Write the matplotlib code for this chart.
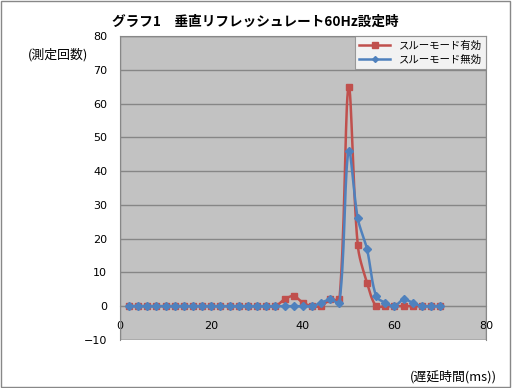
import numpy as np
import matplotlib.pyplot as plt
from matplotlib.patches import Rectangle

plt.rcParams['font.family'] = ['Noto Sans CJK JP', 'DejaVu Sans']

# delay (ms) and counts
delay = [2, 4, 6, 8, 10, 12, 14, 16, 18, 20, 22, 24, 26, 28, 30, 32, 34, 36,
         38, 40, 42, 44, 46, 48, 50, 52, 54, 56, 58, 60, 62, 64, 66, 68, 70]
thru_on = [0, 0, 0, 0, 0, 0, 0, 0, 0, 0, 0, 0, 0, 0, 0, 0, 0, 2,
           3, 1, 0, 0, 2, 2, 65, 18, 7, 0, 0, 0, 0, 0, 0, 0, 0]
thru_off = [0, 0, 0, 0, 0, 0, 0, 0, 0, 0, 0, 0, 0, 0, 0, 0, 0, 0,
            0, 0, 0, 1, 2, 1, 46, 26, 17, 3, 1, 0, 2, 1, 0, 0, 0]

title = 'グラフ1\u3000垂直リフレッシュレート60Hz設定時'
label_on = 'スルーモード有効'
label_off = 'スルーモード無効'


def smooth(x, y, sx=4.575, sy=3.38, n=16):
    # excel-like smoothed line, bezier control points scaled by segment length
    # (done in pixel space so the tall peaks do not overshoot)
    p = np.column_stack([np.asarray(x, float) * sx, np.asarray(y, float) * sy])
    m = len(p)
    out_c, in_c = [], []
    for i in range(m):
        a = p[max(i - 1, 0)]
        b = p[min(i + 1, m - 1)]
        d_in = np.hypot(*(p[i] - a))
        d_out = np.hypot(*(b - p[i]))
        tot = d_in + d_out
        tan = b - a
        in_c.append(p[i] - tan * (d_in / tot) / 3 if tot else p[i])
        out_c.append(p[i] + tan * (d_out / tot) / 3 if tot else p[i])
    t = np.linspace(0, 1, n)[:, None]
    pts = []
    for i in range(m - 1):
        seg = (1 - t) ** 3 * p[i] + 3 * (1 - t) ** 2 * t * out_c[i] \
            + 3 * (1 - t) * t ** 2 * in_c[i + 1] + t ** 3 * p[i + 1]
        pts.append(seg)
    pts = np.vstack(pts)
    return pts[:, 0] / sx, pts[:, 1] / sy


red = '#C0504D'
blue = '#4F81BD'

fig = plt.figure(figsize=(5.12, 3.88), dpi=100)
fig.patches.append(Rectangle((0.002, 0.003), 0.994, 0.994, transform=fig.transFigure,
                             fill=False, edgecolor='#888888', lw=1))
ax = fig.add_axes([0.234, 0.124, 0.715, 0.783])
ax.set_facecolor('#c2c2c2')

for v in range(-10, 81, 10):
    ax.axhline(v, color='#868686', lw=1, zorder=1)

sx, sy = smooth(delay, thru_on)
ax.plot(sx, sy, c=red, lw=1.8, zorder=3)
ax.plot(delay, thru_on, ls='none', marker='s', ms=5, c=red, zorder=3)
sx, sy = smooth(delay, thru_off)
ax.plot(sx, sy, c=blue, lw=1.8, zorder=4)
ax.plot(delay, thru_off, ls='none', marker='D', ms=4, c=blue, zorder=4)

# legend proxies
ax.plot([], [], c=red, lw=1.8, marker='s', ms=5, label=label_on)
ax.plot([], [], c=blue, lw=1.8, marker='D', ms=3, label=label_off)
leg = ax.legend(loc='upper right', fontsize=7.5, frameon=True, fancybox=False,
                borderaxespad=0, handlelength=3, borderpad=0.4, labelspacing=0.4)
leg.get_frame().set_edgecolor('#888888')
leg.get_frame().set_linewidth(0.8)

ax.set_xlim(0, 80)
ax.set_ylim(-10, 80)
ax.set_xticks([0, 20, 40, 60, 80])
ax.set_yticks(range(-10, 81, 10))
ax.spines['bottom'].set_position(('data', 0))
ax.spines['bottom'].set_color('#868686')
for s in ['top', 'left', 'right']:
    ax.spines[s].set_color('#888888')
ax.add_patch(Rectangle((0, 0), 1, 1, transform=ax.transAxes, fill=False,
                       edgecolor='#888888', lw=1, zorder=5))
ax.tick_params(axis='both', length=0, labelsize=8)
ax.tick_params(axis='y', pad=9)
ax.tick_params(axis='x', pad=11)
for lab in ax.get_xticklabels() + ax.get_yticklabels():
    lab.set_family('DejaVu Sans')

fig.text(0.498, 0.943, title, ha='center', va='center', fontsize=9.8, fontweight='bold')
fig.text(0.114, 0.858, '(測定回数)', ha='center', va='center', fontsize=9.3)
fig.text(0.886, 0.03, '(遅延時間(ms))', ha='center', va='center', fontsize=9.3)

plt.savefig('out.png')
